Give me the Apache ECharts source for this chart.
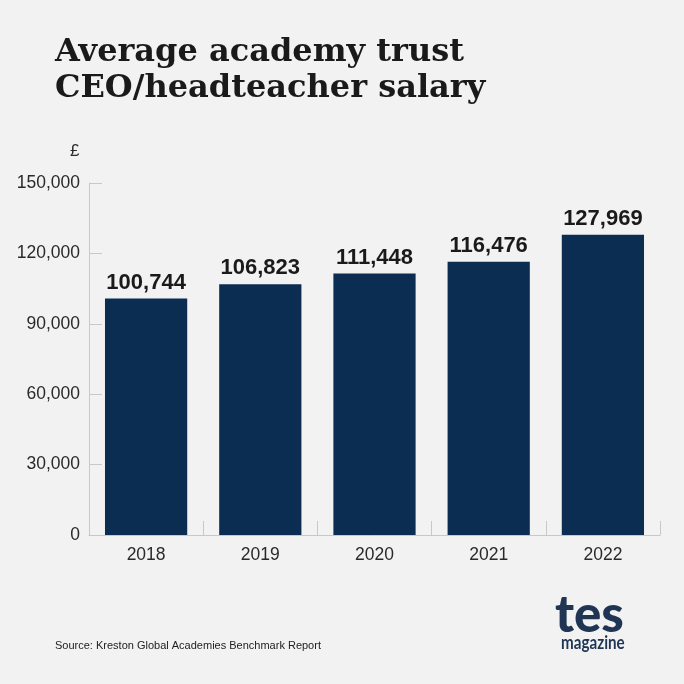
<!DOCTYPE html>
<html><head><meta charset="utf-8">
<script src="https://cdn.jsdelivr.net/npm/echarts@6/dist/echarts.min.js"></script>
<style>html,body{margin:0;padding:0;background:#f2f2f3}#c{width:684px;height:684px}</style>
</head><body><div id="c"></div>
<script>
const categories = ['2018','2019','2020','2021','2022'];
const salaries = [100744, 106823, 111448, 116476, 127969];
const yTicks = [0, 30000, 60000, 90000, 120000, 150000];
const titleLines = ['Average academy trust', 'CEO/headteacher salary'];
const sourceText = 'Source: Kreston Global Academies Benchmark Report';

const fmt = v => v.toLocaleString('en-GB');
const chart = echarts.init(document.getElementById('c'));
chart.setOption({
  backgroundColor: '#f2f2f3',
  animation: false,
  grid: {left: 89, right: 24, top: 183, bottom: 149},
  xAxis: {
    type: 'category', data: categories,
    axisLine: {lineStyle: {color: '#c8c8c8', width: 1}},
    axisTick: {show: true, inside: true, length: 14, lineStyle: {color: '#c8c8c8'}},
    axisLabel: {color: '#2a2a2a', fontSize: 17.5, fontFamily: 'Liberation Sans, Arial', margin: 11}
  },
  yAxis: {
    type: 'value', min: yTicks[0], max: yTicks[yTicks.length-1], interval: 30000,
    axisLine: {show: true, lineStyle: {color: '#c8c8c8', width: 1}},
    axisTick: {show: true, inside: true, length: 13, lineStyle: {color: '#c8c8c8'}},
    splitLine: {show: false},
    axisLabel: {color: '#2a2a2a', fontSize: 17.5, fontFamily: 'Liberation Sans, Arial', margin: 9, formatter: v => fmt(v)}
  },
  series: [{
    type: 'bar', data: salaries, barWidth: '72%',
    itemStyle: {color: '#0c2d52'},
    label: {show: true, position: 'top', distance: 5, color: '#1a1a1a', fontSize: 22, fontWeight: 'bold',
      fontFamily: 'Liberation Sans, Arial', formatter: p => fmt(p.value)}
  }],
  graphic: [
    {type: 'text', left: 55, top: 35, style: {text: titleLines.join('\n'), fill: '#1a1a1a',
      font: 'bold 32px "DejaVu Serif", serif', lineHeight: 36}},
    {type: 'text', left: 70, top: 143, style: {text: '£', fill: '#2a2a2a', font: '17px "Liberation Sans", Arial'}},
    {type: 'text', left: 55, top: 640, style: {text: sourceText, fill: '#222', font: '11px "Liberation Sans", Arial'}},
    {type: 'text', x: 555, y: 590, style: {text: 'tes', fill: '#1f3553', font: '900 51px Lato, sans-serif', align: 'left', verticalAlign: 'top'}},
    {type: 'text', x: 561, y: 633, scaleX: 0.8, style: {text: 'magazine', fill: '#1f3553', font: 'bold 19px Lato, sans-serif', align: 'left', verticalAlign: 'top'}}
  ]
});
</script></body></html>
